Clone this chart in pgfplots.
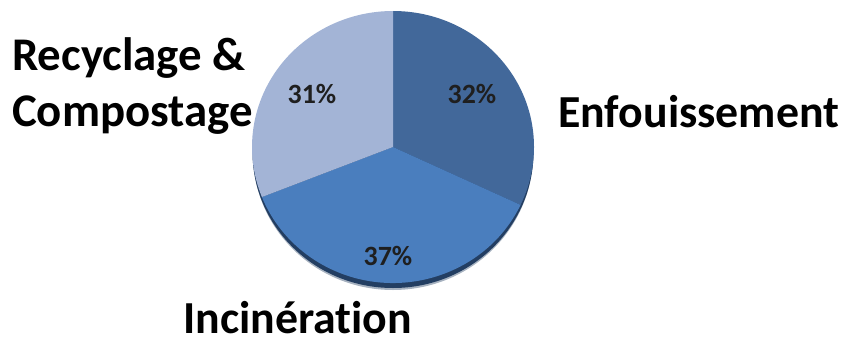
\documentclass[border=0pt]{standalone}
\usepackage{pgfplots}
\pgfplotsset{compat=1.18}
\usepackage{fontspec}
\setmainfont[Ligatures=NoCommon]{Carlito}
\definecolor{cDark}{HTML}{42689A}
\definecolor{cMed}{HTML}{4A7EBE}
\definecolor{cLight}{HTML}{A3B4D6}
\definecolor{cRim}{HTML}{233E62}
\begin{document}
\begin{tikzpicture}
\begin{axis}[hide axis, scale only axis, x=1bp, y=1bp,
  xmin=0, xmax=854, ymin=0, ymax=339, clip=false]
\path (axis cs:0,0) rectangle (axis cs:854,339);
% soft shadow / rim under the pie
\fill[cRim!40!white] (axis cs:393,185) ellipse [x radius=140bp, y radius=136bp];
\fill[cRim] (axis cs:393,187) ellipse [x radius=140.5bp, y radius=136bp];
% slices: 32 % (Enfouissement), 37 % (Incineration), 31 % (Recyclage)
\fill[cDark] (axis cs:393,192) -- ++(90:141bp and 136bp)
  arc[start angle=90, end angle={90-3.6*32}, x radius=141bp, y radius=136bp] -- cycle;
\fill[cMed] (axis cs:393,192) -- ++({90-3.6*32}:141bp and 136bp)
  arc[start angle={90-3.6*32}, end angle={90-3.6*69}, x radius=141bp, y radius=136bp] -- cycle;
\fill[cLight] (axis cs:393,192) -- ++({90-3.6*69}:141bp and 136bp)
  arc[start angle={90-3.6*69}, end angle={90-3.6*100}, x radius=141bp, y radius=136bp] -- cycle;
% percentages
\node[anchor=base, font=\bfseries\fontsize{28}{32}\selectfont, text=black!88] at (axis cs:312,236) {31\%};
\node[anchor=base, font=\bfseries\fontsize{28}{32}\selectfont, text=black!88] at (axis cs:472,236) {32\%};
\node[anchor=base, font=\bfseries\fontsize{28}{32}\selectfont, text=black!88] at (axis cs:388,74) {37\%};
% category labels
\node[anchor=base west, inner sep=0pt, font=\bfseries\fontsize{47}{56}\selectfont] at (axis cs:12,269) {Recyclage \&};
\node[anchor=base west, inner sep=0pt, font=\bfseries\fontsize{47}{56}\selectfont] at (axis cs:12,213) {Compostage};
\node[anchor=base west, inner sep=0pt, font=\bfseries\fontsize{46}{56}\selectfont] at (axis cs:558,212) {Enfouissement};
\node[anchor=base west, inner sep=0pt, font=\bfseries\fontsize{46}{56}\selectfont] at (axis cs:183,6) {Incinération};
\end{axis}
\end{tikzpicture}
\end{document}
